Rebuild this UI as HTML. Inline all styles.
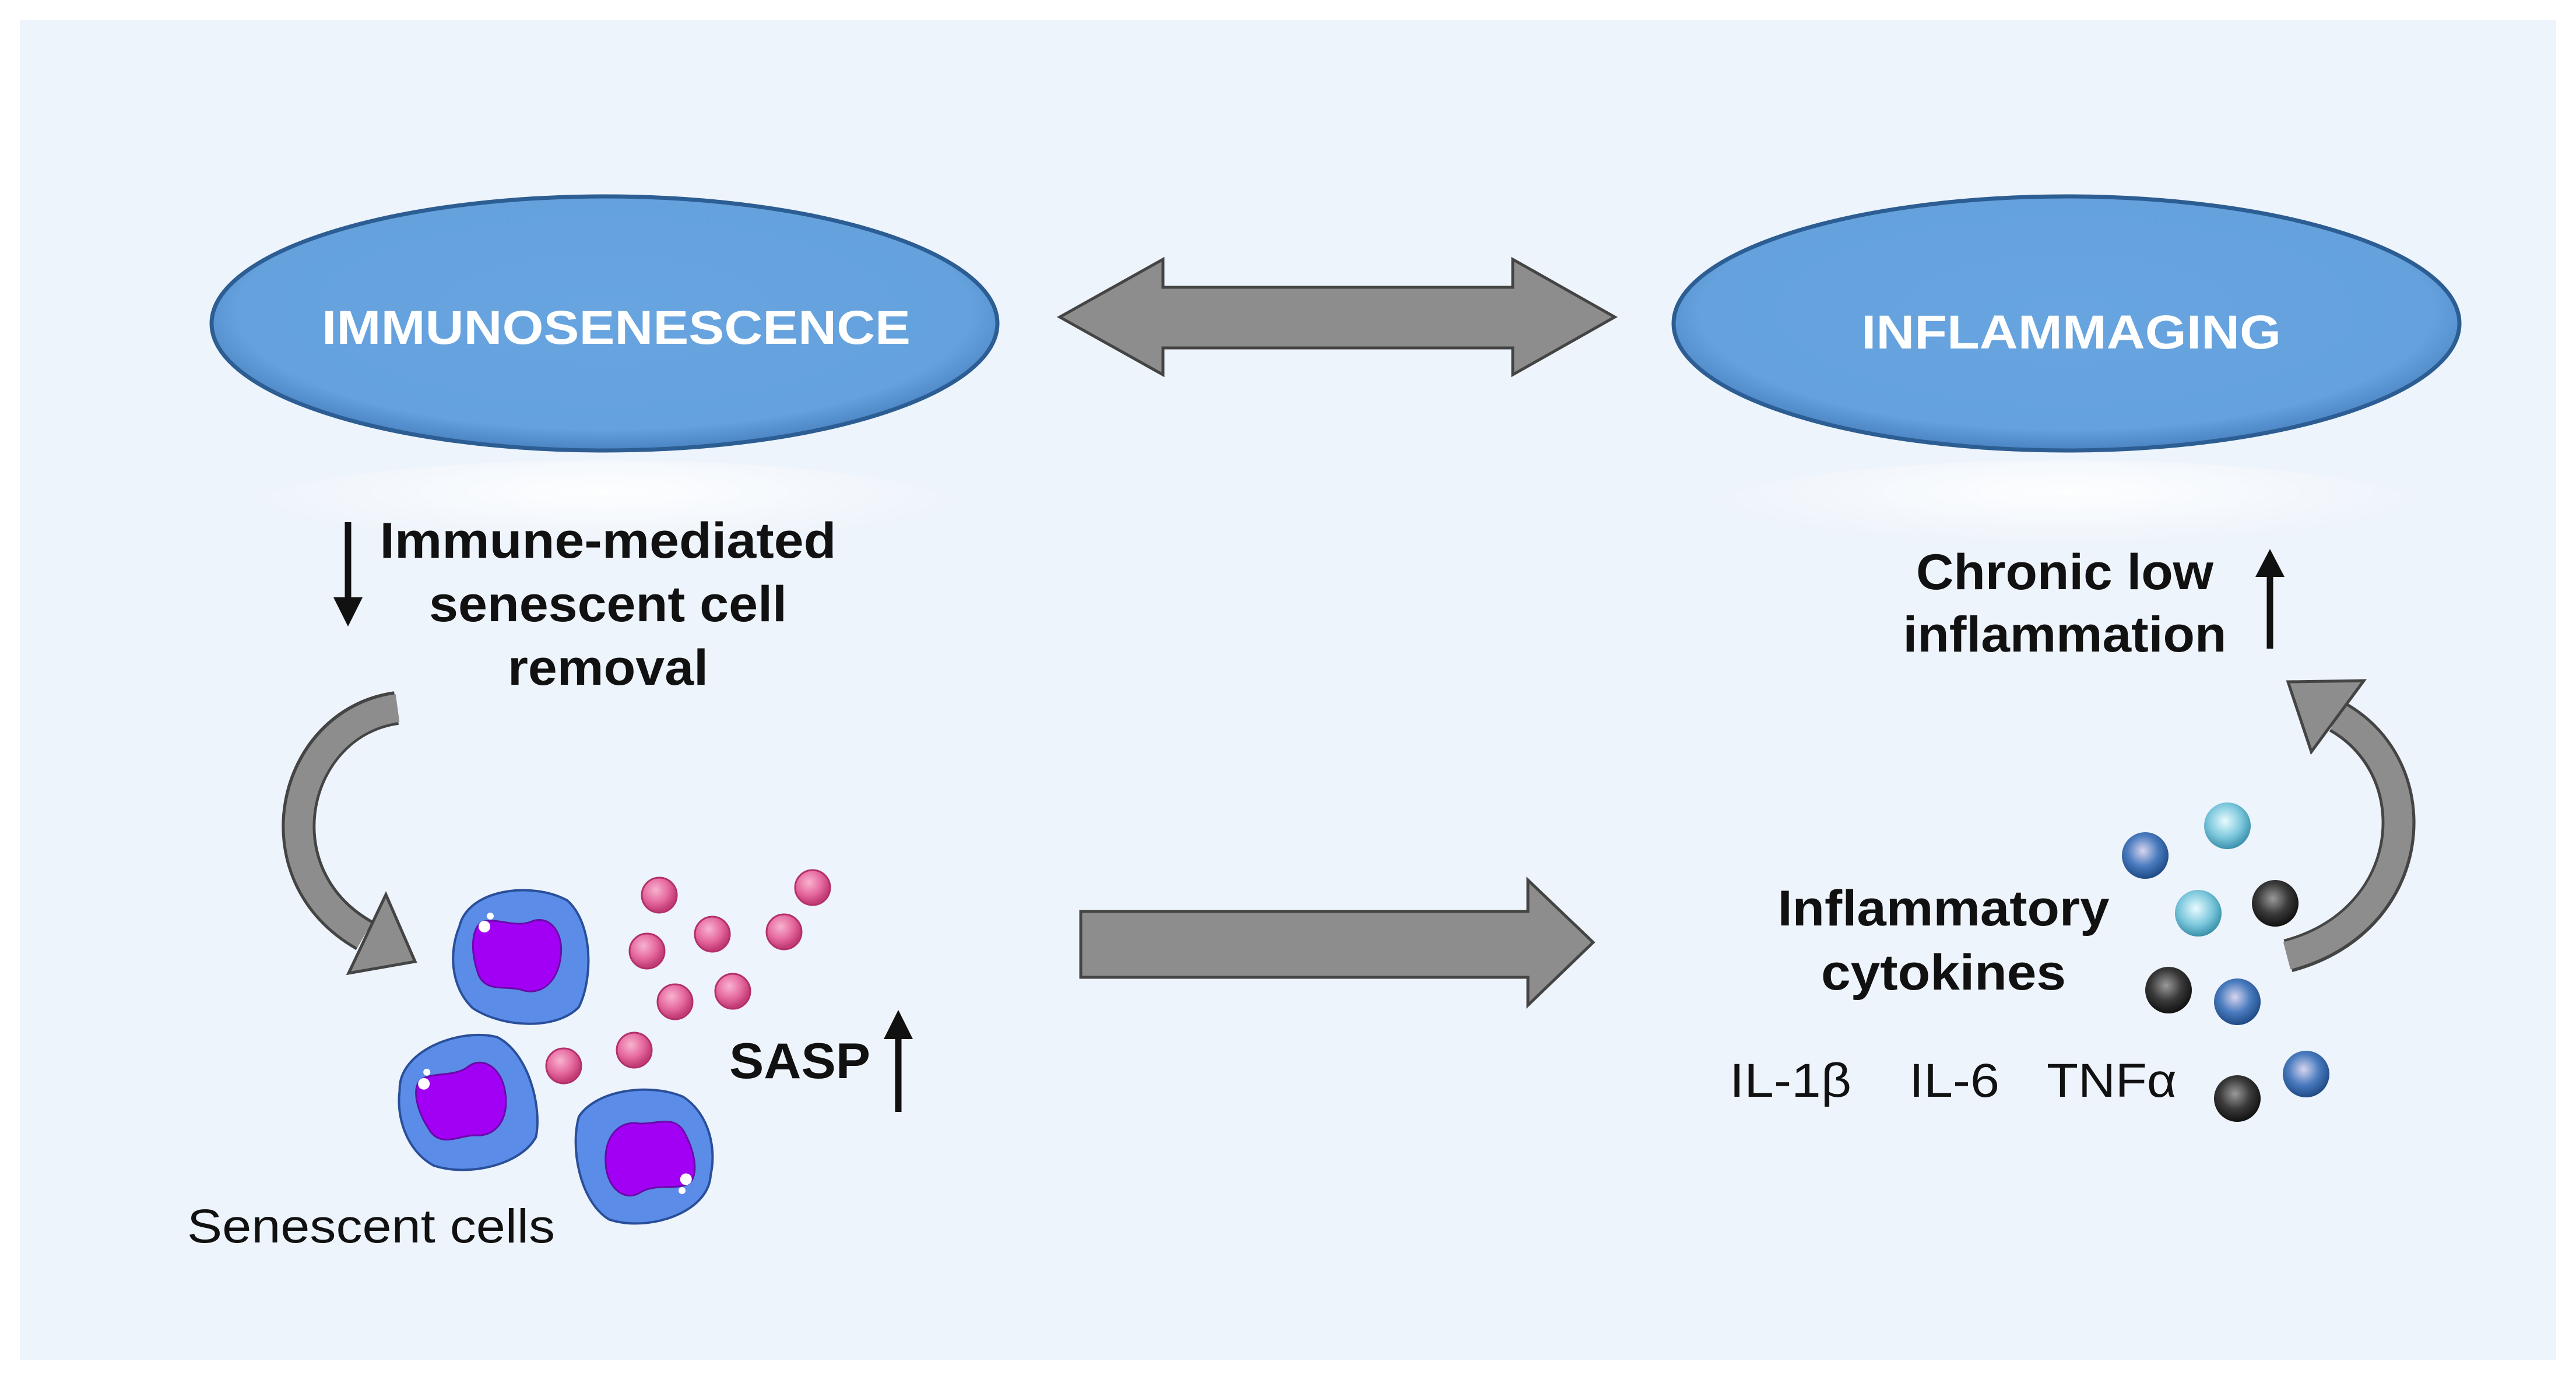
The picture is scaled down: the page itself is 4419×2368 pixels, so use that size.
<!DOCTYPE html>
<html><head><meta charset="utf-8"><style>
html,body{margin:0;padding:0;background:#fff;}
svg{display:block;}
text{font-family:"Liberation Sans",Arial,sans-serif;}
</style></head><body>
<svg width="4419" height="2368" viewBox="0 0 4419 2368" xmlns="http://www.w3.org/2000/svg">
<defs>
<radialGradient id="ell" cx="50%" cy="45%" r="55%">
<stop offset="0" stop-color="#67a4e0"/><stop offset="0.85" stop-color="#64a1dd"/><stop offset="1" stop-color="#4a83c2"/>
</radialGradient>
<radialGradient id="refl" cx="50%" cy="30%" r="50%">
<stop offset="0" stop-color="#ffffff" stop-opacity="0.9"/><stop offset="1" stop-color="#ffffff" stop-opacity="0"/>
</radialGradient>
<radialGradient id="pink" cx="40%" cy="35%" r="60%">
<stop offset="0" stop-color="#f7b3d0"/><stop offset="0.6" stop-color="#e66a9e"/><stop offset="1" stop-color="#c23d74"/>
</radialGradient>
<radialGradient id="lb" cx="45%" cy="40%" r="60%">
<stop offset="0" stop-color="#e8fbff"/><stop offset="0.6" stop-color="#7cc7dc"/><stop offset="1" stop-color="#3a91ab"/>
</radialGradient>
<radialGradient id="db" cx="45%" cy="40%" r="60%">
<stop offset="0" stop-color="#d9d4ee"/><stop offset="0.55" stop-color="#4a7cbf"/><stop offset="1" stop-color="#1f4a86"/>
</radialGradient>
<radialGradient id="bk" cx="45%" cy="40%" r="60%">
<stop offset="0" stop-color="#9a9a9a"/><stop offset="0.55" stop-color="#3a3a3a"/><stop offset="1" stop-color="#111"/>
</radialGradient>
<g id="cell">
<path d="M-105,-50 C-90,-115 20,-128 80,-95 C125,-55 124,40 100,88 C62,128 -30,124 -82,90 C-122,52 -122,-10 -105,-50Z" fill="#5b8de8" stroke="#2a4f9a" stroke-width="4"/>
<path d="M-66,-58 C-42,-66 -10,-48 17,-58 C48,-72 74,-42 69,0 C64,48 32,70 0,58 C-27,51 -64,64 -74,27 C-86,-10 -84,-48 -66,-58Z" fill="#a100f5" stroke="#6a0aa8" stroke-width="3"/>
<circle cx="-62" cy="-50" r="10" fill="#fff"/><circle cx="-52" cy="-68" r="6" fill="#fff"/>
</g>
</defs>
<rect width="4419" height="2368" fill="#fff"/>
<rect x="34" y="34" width="4351" height="2300" fill="#eef4fb"/>

<ellipse cx="1037" cy="880" rx="620" ry="90" fill="url(#refl)"/>
<ellipse cx="3545" cy="880" rx="620" ry="90" fill="url(#refl)"/>

<ellipse cx="1037" cy="555" rx="674" ry="218" fill="url(#ell)" stroke="#2c5d93" stroke-width="7"/>
<text x="1057" y="590" font-size="82" font-weight="bold" fill="#fff" text-anchor="middle" textLength="1010" lengthAdjust="spacingAndGlyphs">IMMUNOSENESCENCE</text>
<ellipse cx="3545" cy="555" rx="674" ry="218" fill="url(#ell)" stroke="#2c5d93" stroke-width="7"/>
<text x="3553" y="598" font-size="82" font-weight="bold" fill="#fff" text-anchor="middle" textLength="720" lengthAdjust="spacingAndGlyphs">INFLAMMAGING</text>

<polygon points="1818,544 1995,445 1995,493 2595,493 2595,445 2770,544 2595,643 2595,597 1995,597 1995,643" fill="#8d8d8d" stroke="#444" stroke-width="5"/>

<polygon points="1854,1564 2621,1564 2621,1510 2733,1617 2621,1725 2621,1677 1854,1677" fill="#8d8d8d" stroke="#444" stroke-width="5"/>

<g font-size="86" font-weight="bold" fill="#111" text-anchor="middle" lengthAdjust="spacingAndGlyphs">
<text x="1043" y="957" textLength="783" lengthAdjust="spacingAndGlyphs">Immune-mediated</text>
<text x="1043" y="1066" textLength="614" lengthAdjust="spacingAndGlyphs">senescent cell</text>
<text x="1043" y="1175" textLength="344" lengthAdjust="spacingAndGlyphs">removal</text>
<text x="3542" y="1011" textLength="510" lengthAdjust="spacingAndGlyphs">Chronic low</text>
<text x="3542" y="1118" textLength="555" lengthAdjust="spacingAndGlyphs">inflammation</text>
<text x="1372" y="1850" textLength="242" lengthAdjust="spacingAndGlyphs">SASP</text>
<text x="3334" y="1588" textLength="569" lengthAdjust="spacingAndGlyphs">Inflammatory</text>
<text x="3334" y="1698" textLength="420" lengthAdjust="spacingAndGlyphs">cytokines</text>
</g>
<g font-size="82" fill="#111">
<text x="2967" y="1882" textLength="209" lengthAdjust="spacingAndGlyphs">IL-1β</text>
<text x="3275" y="1882" textLength="155" lengthAdjust="spacingAndGlyphs">IL-6</text>
<text x="3511" y="1882" textLength="223" lengthAdjust="spacingAndGlyphs">TNFα</text>
<text x="321" y="2132" textLength="631" lengthAdjust="spacingAndGlyphs">Senescent cells</text>
</g>

<line x1="597" y1="896" x2="597" y2="1030" stroke="#111" stroke-width="11"/>
<polygon points="572,1025 622,1025 597,1075" fill="#111"/>
<line x1="3894" y1="1113" x2="3894" y2="985" stroke="#111" stroke-width="11"/>
<polygon points="3869,990 3919,990 3894,942" fill="#111"/>
<line x1="1541" y1="1908" x2="1541" y2="1778" stroke="#111" stroke-width="11"/>
<polygon points="1516,1783 1566,1783 1541,1733" fill="#111"/>

<path d="M680,1215 C500,1240 440,1500 625,1605" fill="none" stroke="#444" stroke-width="58"/>
<path d="M682,1215 C500,1240 440,1500 625,1605" fill="none" stroke="#8d8d8d" stroke-width="48"/>
<polygon points="598,1670 662,1535 712,1650" fill="#8d8d8d" stroke="#444" stroke-width="5"/>
<path d="M3925,1640 C4150,1580 4170,1320 4010,1230" fill="none" stroke="#444" stroke-width="58"/>
<path d="M3923,1640 C4150,1580 4170,1320 4010,1230" fill="none" stroke="#8d8d8d" stroke-width="48"/>
<polygon points="4055,1168 3965,1290 3925,1170" fill="#8d8d8d" stroke="#444" stroke-width="5"/>

<use href="#cell" transform="translate(893,1640)"/>
<use href="#cell" transform="translate(800,1892) rotate(-15)"/>
<use href="#cell" transform="translate(1107,1985) rotate(170)"/>

<g fill="url(#pink)" stroke="#b3306a" stroke-width="3">
<circle cx="1131" cy="1536" r="30"/><circle cx="1394" cy="1523" r="30"/>
<circle cx="1222" cy="1603" r="30"/><circle cx="1345" cy="1599" r="30"/>
<circle cx="1110" cy="1632" r="30"/><circle cx="1158" cy="1719" r="30"/>
<circle cx="1257" cy="1701" r="30"/><circle cx="1088" cy="1802" r="30"/>
<circle cx="967" cy="1829" r="30"/>
</g>

<circle cx="3821" cy="1417" r="40" fill="url(#lb)"/>
<circle cx="3680" cy="1468" r="40" fill="url(#db)"/>
<circle cx="3771" cy="1567" r="40" fill="url(#lb)"/>
<circle cx="3903" cy="1550" r="40" fill="url(#bk)"/>
<circle cx="3720" cy="1699" r="40" fill="url(#bk)"/>
<circle cx="3838" cy="1719" r="40" fill="url(#db)"/>
<circle cx="3956" cy="1843" r="40" fill="url(#db)"/>
<circle cx="3838" cy="1885" r="40" fill="url(#bk)"/>
</svg>
</body></html>
